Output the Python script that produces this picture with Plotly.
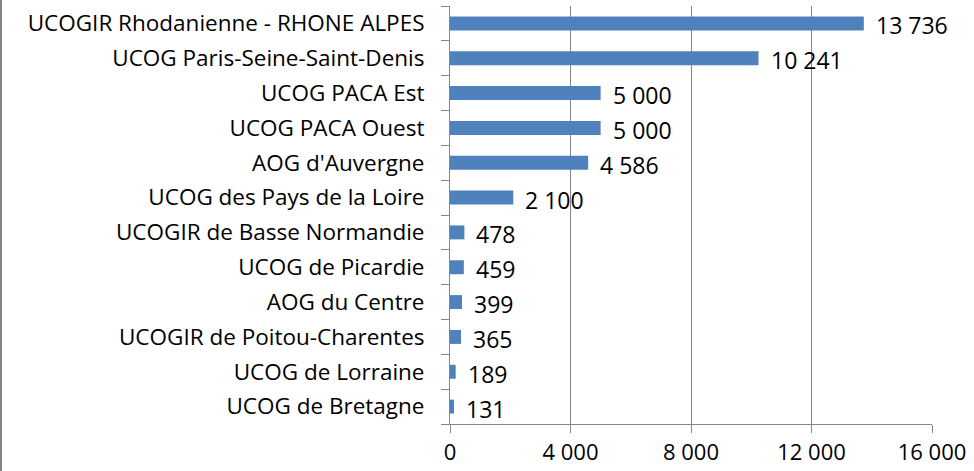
import plotly.graph_objects as go

categories = [
    "UCOGIR Rhodanienne - RHONE ALPES",
    "UCOG Paris-Seine-Saint-Denis",
    "UCOG PACA Est",
    "UCOG PACA Ouest",
    "AOG d'Auvergne",
    "UCOG des Pays de la Loire",
    "UCOGIR de Basse Normandie",
    "UCOG de Picardie",
    "AOG du Centre",
    "UCOGIR de Poitou-Charentes",
    "UCOG de Lorraine",
    "UCOG de Bretagne",
]
values = [13736, 10241, 5000, 5000, 4586, 2100, 478, 459, 399, 365, 189, 131]
tick_vals = [0, 4000, 8000, 12000, 16000]

FONT = "Open Sans"
GRAY = "#868686"

fig = go.Figure()
fig.add_trace(go.Bar(
    y=categories,
    x=values,
    orientation="h",
    marker=dict(color="#4F81BD", line=dict(width=0)),
    width=0.4,
    hoverinfo="skip",
))

for c, v in zip(categories, values):
    fig.add_annotation(
        x=v, y=c, xref="x", yref="y",
        text=f"{v:,}".replace(",", " "),
        showarrow=False, xanchor="left", xshift=10, yshift=-2,
        font=dict(family=FONT, size=23, color="#000000"),
    )

fig.update_layout(
    width=974, height=471,
    margin=dict(l=450, r=42, t=6, b=47, autoexpand=False),
    paper_bgcolor="white", plot_bgcolor="white",
    showlegend=False,
    separators=", ",
    font=dict(family=FONT, size=22.5, color="#000000"),
    shapes=[dict(type="line", xref="paper", yref="paper",
                 x0=-449/482, x1=-449/482, y0=-47/418, y1=6/418 + 1,
                 line=dict(color=GRAY, width=2))],
)
fig.update_xaxes(
    range=[0, 16000], tickvals=tick_vals, tickformat=",d",
    showgrid=True, gridcolor=GRAY, gridwidth=1,
    showline=True, linecolor=GRAY, linewidth=1,
    ticks="outside", ticklen=8, tickcolor=GRAY,
    zeroline=False, ticklabelstandoff=1, automargin=False,
    tickfont=dict(family=FONT, size=22, color="#000000"),
)
fig.update_yaxes(
    categoryorder="array", categoryarray=categories[::-1],
    autorange=False, range=[-0.5, len(categories) - 0.5],
    showline=True, linecolor=GRAY, linewidth=1,
    ticks="outside", ticklen=8, tickcolor=GRAY, tickson="boundaries",
    showgrid=False, ticklabelstandoff=20, automargin=False,
    tickfont=dict(family=FONT, size=22.5, color="#000000"),
)

fig.write_html(
    "out.html",
    config={"displayModeBar": False, "staticPlot": True},
    post_script="document.body.style.margin='0';document.body.style.overflow='hidden';",
)
